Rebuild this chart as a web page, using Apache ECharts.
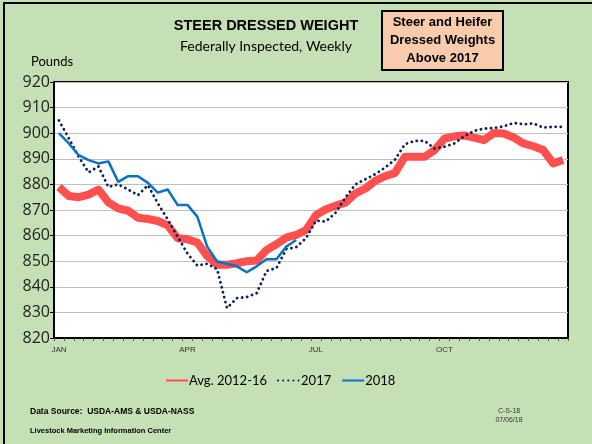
<!DOCTYPE html>
<html>
<head>
<meta charset="utf-8">
<script src="https://cdn.jsdelivr.net/npm/echarts@6/dist/echarts.min.js"></script>
<style>
  html, body { margin: 0; padding: 0; background: #c5e0b4; }
  #chart { width: 592px; height: 444px; }
</style>
</head>
<body>
<div id="chart"></div>
<script>
// week 1..52, month label every 13 weeks
const monthLabels = ['JAN', 'APR', 'JUL', 'OCT'];
const weeks = [];
for (let i = 1; i <= 52; i++) weeks.push('W' + i);

const avg1216 = [879, 875.5, 875, 876, 878, 873, 870.6, 869.7, 867, 866.5,
  865.7, 864, 859, 858.6, 857.3, 852, 848.6, 848.6, 849.2, 850,
  850.3, 854.4, 856.6, 859.2, 860.3, 862.2, 868, 870.3, 871.7, 872.9,
  876.5, 878.4, 881.4, 883.2, 884.5, 890.8, 890.8, 890.8, 893.4, 897.9,
  898.8, 899.1, 898.3, 897.3, 900.1, 899.9, 898.3, 896, 894.9, 893.4,
  888.2, 889.5];

const y2017 = [905, 898, 890.8, 884.7, 887, 879, 880, 878, 875.8, 879.7,
  872.6, 866.4, 859.6, 853, 848.3, 849, 846.9, 831.7, 835.6, 836,
  837.5, 846.2, 847.3, 854.7, 855.5, 859, 865.8, 865.5, 869, 875,
  880, 882, 884, 886.6, 889.7, 895.7, 897, 897, 894, 894.7,
  896, 898.8, 900.9, 901.8, 902, 902.7, 904, 903.5, 903.8, 902.2,
  902.5, 902.5];

const y2018 = [900, 896, 891.4, 889.5, 888.2, 889, 881, 883.2, 883.2, 880.6,
  876.8, 878, 872, 872, 867.4, 855.7, 849.9, 849, 848, 845.7,
  848, 850.8, 850.8, 855.7, 858.3];

const chart = echarts.init(document.getElementById('chart'));

const option = {
  backgroundColor: '#c5e0b4',
  animation: false,
  grid: {
    left: 54, top: 82, right: 24, bottom: 106,
    show: true, backgroundColor: '#ffffff', borderColor: '#000', borderWidth: 2
  },
  legend: {
    left: 160, top: 369,
    itemWidth: 22, itemHeight: 8, itemGap: 10,
    itemStyle: { opacity: 0 },
    textStyle: { fontFamily: 'Lato', fontSize: 13, color: '#000', padding: [0, 0, 0, -4] },
    data: ['Avg. 2012-16', '2017', '2018']
  },
  xAxis: {
    type: 'category',
    data: weeks,
    boundaryGap: true,
    axisLine: { lineStyle: { color: '#000', width: 2 } },
    axisTick: { show: true, interval: 0, length: 3, lineStyle: { color: '#555' } },
    axisLabel: {
      interval: 12,
      margin: 8,
      fontFamily: 'Liberation Sans',
      fontSize: 8,
      color: '#333',
      formatter: (v, i) => monthLabels[i / 13] || ''
    }
  },
  yAxis: {
    type: 'value',
    min: 820, max: 920, interval: 10,
    axisLine: { show: true, lineStyle: { color: '#000', width: 2 } },
    axisTick: { show: true, length: 4, lineStyle: { color: '#000' } },
    axisLabel: { fontFamily: 'Open Sans', fontSize: 16, color: '#222', margin: 4 },
    splitLine: { lineStyle: { color: '#bfbfbf', width: 1 } }
  },
  series: [
    {
      name: 'Avg. 2012-16', type: 'line', data: avg1216, symbol: 'none',
      lineStyle: { color: '#ff5050', width: 8, join: 'round' },
      itemStyle: { color: '#ff5050' }
    },
    {
      name: '2017', type: 'line', data: y2017, symbol: 'none',
      lineStyle: { color: '#0b1f5c', width: 2.8, type: [0.1, 5], cap: 'round' },
      itemStyle: { color: '#0b1f5c' }
    },
    {
      name: '2018', type: 'line', data: y2018, symbol: 'none',
      lineStyle: { color: '#0a72c0', width: 2.5 },
      itemStyle: { color: '#0a72c0' }
    }
  ],
  graphic: [
    { type: 'rect', shape: { x: 4, y: 3, width: 620, height: 480 }, style: { fill: 'none', stroke: '#000', lineWidth: 2 }, silent: true },
    { type: 'text', x: 266, y: 18, style: { text: 'STEER DRESSED WEIGHT', font: 'bold 14.5px Liberation Sans', fill: '#000', align: 'center', verticalAlign: 'top' } },
    { type: 'text', x: 266, y: 39, style: { text: 'Federally Inspected, Weekly', font: '14px Lato', fill: '#000', align: 'center', verticalAlign: 'top' } },
    { type: 'text', x: 31, y: 55, style: { text: 'Pounds', font: '13px Lato', fill: '#000', verticalAlign: 'top' } },
    { type: 'rect', shape: { x: 382, y: 11, width: 121, height: 59 }, style: { fill: '#f8cbad', stroke: '#000', lineWidth: 2 } },
    { type: 'text', x: 442.5, y: 40.5, style: { text: 'Steer and Heifer\nDressed Weights\nAbove 2017', font: 'bold 13px Liberation Sans', lineHeight: 18, fill: '#000', align: 'center', verticalAlign: 'middle' } },
    { type: 'text', x: 30, y: 407, style: { text: 'Data Source:  USDA-AMS & USDA-NASS', font: 'bold 8.5px Liberation Sans', fill: '#000', verticalAlign: 'top' } },
    { type: 'text', x: 30, y: 427, style: { text: 'Livestock Marketing Information Center', font: 'bold 7.5px Liberation Sans', fill: '#000', verticalAlign: 'top' } },
    { type: 'text', x: 509, y: 416, style: { text: 'C-S-18\n07/06/18', font: '7px Liberation Sans', lineHeight: 9, fill: '#333', align: 'center', verticalAlign: 'middle' } }
  ]
};

chart.setOption(option);
</script>
</body>
</html>
